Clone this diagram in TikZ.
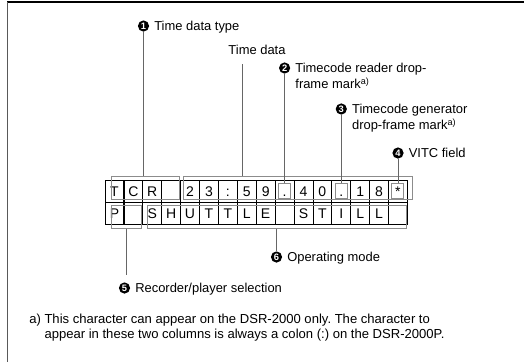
\documentclass[tikz,border=0pt]{standalone}
\usepackage{fontspec}
\setmainfont{Liberation Sans}
\usetikzlibrary{positioning}
\frenchspacing

\begin{document}
\begin{tikzpicture}[x=0.75pt, y=-0.75pt,
  cell/.style={rectangle, draw=black, line width=0.6pt, minimum width=14.18pt, minimum height=16.5pt, inner sep=0pt, text height=7.6pt, text depth=0pt, font=\fontsize{10.5}{12}\selectfont},
  grp/.style={rectangle, draw=black!45, line width=0.75pt, inner sep=0pt},
  lead/.style={draw=black!60, line width=0.75pt},
  num/.style={circle, fill=black, text=white, inner sep=0pt, minimum size=8.4pt, font=\fontsize{7}{7}\selectfont\bfseries},
  lbl/.style={inner sep=0pt, text height=7pt, text depth=0pt, font=\fontsize{9.7}{12}\selectfont},
  mlbl/.style={inner sep=0pt, align=left, font=\fontsize{9.7}{12}\selectfont}]
\useasboundingbox (0,0) rectangle (524,362);
\draw[line width=1.1pt] (7,2) -- (524,2);
\draw[line width=1.2pt, black!65] (7.5,2) -- (7.5,362);

% display rows
\foreach \c [count=\i from 0] in {T,C,R,{},2,3,:,5,9,.,4,0,.,1,8,*}
  \node (ra\i) [cell] at (114.45+18.9*\i,191) {\c};
\foreach \c [count=\i from 0] in {P,{},S,H,U,T,T,L,E,{},S,T,I,L,L,{}}
  \node (rb\i) [cell] at (114.45+18.9*\i,213) {\c};

\node (grpa) [grp, minimum width=51pt, minimum height=17.25pt] at (145,187.5) {};
\node (grpb) [grp, minimum width=171.75pt, minimum height=17.25pt] at (297.5,187.5) {};
\node (grpp) [grp, minimum width=22.5pt, minimum height=17.25pt] at (126,216.5) {};
\node (grps) [grp, minimum width=194.25pt, minimum height=17.25pt] at (276.5,216.5) {};
\node (dota) [grp, minimum width=9pt, minimum height=11.25pt] at (ra9) {};
\node (dotb) [grp, minimum width=9pt, minimum height=11.25pt] at (ra12) {};
\node (star) [grp, minimum width=9pt, minimum height=11.25pt] at (ra15) {};

% labels
\node (c1) [num] at (143.5,26) {1};
\node (typ) [lbl, right=3.5pt of c1] {Time data type};
\node (tdat) [lbl] at (257,50) {Time data};
\node (c2) [num] at (284.6,68) {2};
\node (rdf) [mlbl, anchor=north west] at ([xshift=3.5pt, yshift=3.5pt]c2.east) {Timecode reader drop-\\frame mark\textsuperscript{a)}};
\node (c3) [num] at (341.3,109) {3};
\node (gdf) [mlbl, anchor=north west] at ([xshift=3.5pt, yshift=3.5pt]c3.east) {Timecode generator\\drop-frame mark\textsuperscript{a)}};
\node (c4) [num] at (398,153) {4};
\node (vitc) [lbl, right=3.5pt of c4] {VITC field};
\node (c5) [num] at (124.5,288) {5};
\node (rps) [lbl, right=3.5pt of c5] {Recorder/player selection};
\node (c6) [num] at (276.5,257) {6};
\node (opm) [lbl, right=3.5pt of c6] {Operating mode};
\coordinate (e5) at ([yshift=5pt]c5.north);

\draw[lead] (c1.south) -- (c1.south |- grpa.north);
\draw[lead] ([xshift=-11.25pt, yshift=-7pt]tdat.south) -- ([xshift=-11.25pt]tdat.south |- grpb.north);
\draw[lead] (c2.south) -- (c2.south |- dota.north);
\draw[lead] (c3.south) -- (c3.south |- dotb.north);
\draw[lead] (c4.south) -- (c4.south |- star.north);
\draw[lead] (grpp.south) -- (grpp.south |- e5);
\draw[lead] (grps.south) -- (c6.north);

\node (fn) [mlbl, anchor=north west, font=\fontsize{9.8}{11.5}\selectfont] at (29,313.3) {a)~This character can appear on the DSR-2000 only. The character to\\\phantom{a)~}appear in these two columns is always a colon (:) on the DSR-2000P.};
\end{tikzpicture}
\end{document}
